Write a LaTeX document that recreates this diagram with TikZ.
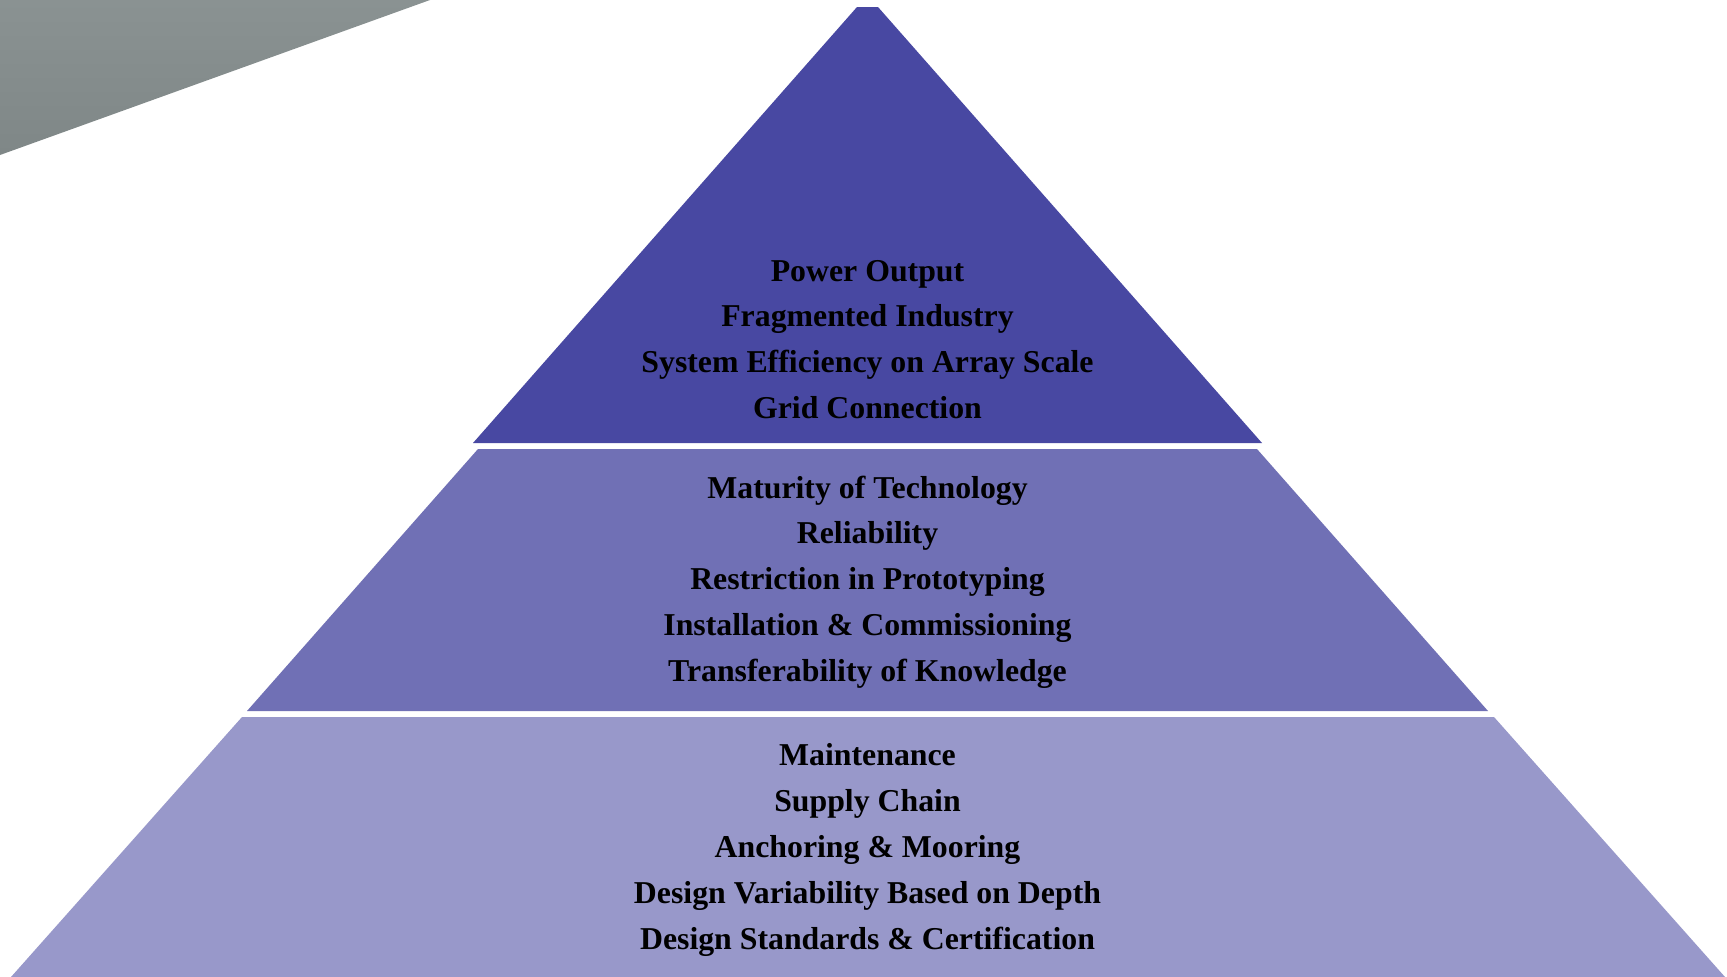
\documentclass[tikz,border=0pt]{standalone}
\usepackage{fontspec}
\setmainfont{Liberation Serif}
\begin{document}
\begin{tikzpicture}[x=1pt,y=-1pt,
  tierlabel/.style={anchor=base,inner sep=0pt,text=black,
    font=\fontsize{31.8}{38}\selectfont\bfseries}]
\definecolor{tierA}{HTML}{4848A2}
\definecolor{tierB}{HTML}{7070B5}
\definecolor{tierC}{HTML}{9898CA}
\definecolor{bandL}{HTML}{8A9292}
\definecolor{bandR}{HTML}{7F8787}
\useasboundingbox (0,0) rectangle (1727,977);
\fill[white] (0,0) rectangle (1727,977);

% grey corner band
\shade[shading=axis,shading angle=60,top color=bandL,bottom color=bandR]
  (0,0) -- (430,0) -- (0,155) -- cycle;

% pyramid tiers
\fill[tierA] (857,7) -- (878,7) -- (1262,443) -- (473,443) -- cycle;
\fill[tierB] (478,449) -- (1257,449) -- (1488,711) -- (247,711) -- cycle;
\fill[tierC] (242,717) -- (1494,717) -- (1725,977) -- (11,977) -- cycle;

% top tier
\node[tierlabel] (a1) at (867.5,281.0) {Power Output};
\node[tierlabel] (a2) at (867.5,326.9) {Fragmented Industry};
\node[tierlabel] (a3) at (867.5,372.8) {System Efficiency on Array Scale};
\node[tierlabel] (a4) at (867.5,418.7) {Grid Connection};

% middle tier
\node[tierlabel] (b1) at (867.5,498.0) {Maturity of Technology};
\node[tierlabel] (b2) at (867.5,543.9) {Reliability};
\node[tierlabel] (b3) at (867.5,589.8) {Restriction in Prototyping};
\node[tierlabel] (b4) at (867.5,635.7) {Installation \& Commissioning};
\node[tierlabel] (b5) at (867.5,681.6) {Transferability of Knowledge};

% bottom tier
\node[tierlabel] (c1) at (867.5,765.5) {Maintenance};
\node[tierlabel] (c2) at (867.5,811.4) {Supply Chain};
\node[tierlabel] (c3) at (867.5,857.3) {Anchoring \& Mooring};
\node[tierlabel] (c4) at (867.5,903.2) {Design Variability Based on Depth};
\node[tierlabel] (c5) at (867.5,949.1) {Design Standards \& Certification};
\end{tikzpicture}
\end{document}
